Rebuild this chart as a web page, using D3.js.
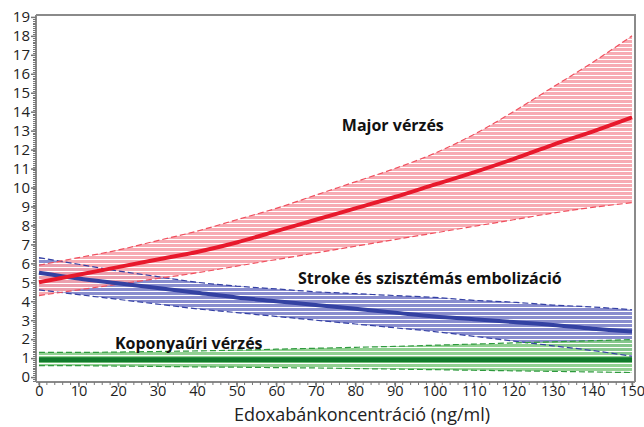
<!DOCTYPE html>
<html><head><meta charset="utf-8">
<script src="https://cdn.jsdelivr.net/npm/d3@7/dist/d3.min.js"></script>
<style>body{margin:0;background:#fff}svg{display:block}</style>
</head><body>
<svg id="c" width="644" height="427"></svg>
<script>
const conc = [0,10,20,30,40,50,60,70,80,90,100,110,120,130,140,150];
const majorMid   = [5.0,5.4,5.8,6.2,6.6,7.1,7.7,8.3,8.9,9.5,10.15,10.8,11.5,12.25,12.95,13.7];
const majorUpper = [5.9,6.3,6.7,7.2,7.7,8.3,8.9,9.6,10.3,11.0,11.8,12.8,14.0,15.3,16.6,18.0];
const majorLower = [4.3,4.6,4.9,5.2,5.5,5.85,6.2,6.55,6.9,7.25,7.6,7.95,8.3,8.65,8.95,9.2];
const strokeMid   = [5.5,5.2,4.95,4.7,4.45,4.2,4.0,3.8,3.6,3.4,3.2,3.05,2.9,2.75,2.55,2.4];
const strokeUpper = [6.3,5.95,5.6,5.3,5.0,4.8,4.65,4.5,4.4,4.3,4.2,4.05,3.95,3.8,3.7,3.55];
const strokeLower = [4.6,4.35,4.1,3.85,3.6,3.4,3.2,3.0,2.8,2.6,2.4,2.15,1.9,1.65,1.4,1.1];
const ichMid   = [0.92,0.92,0.92,0.92,0.92,0.92,0.92,0.92,0.92,0.92,0.92,0.92,0.92,0.92,0.92,0.92];
const ichUpper = [1.3,1.3,1.32,1.35,1.38,1.42,1.47,1.52,1.57,1.62,1.68,1.74,1.8,1.86,1.92,1.98];
const ichLower = [0.6,0.6,0.58,0.56,0.54,0.52,0.5,0.48,0.45,0.42,0.39,0.36,0.33,0.3,0.27,0.24];
const xTicks = [0,10,20,30,40,50,60,70,80,90,100,110,120,130,140,150];
const yTicks = [0,1,2,3,4,5,6,7,8,9,10,11,12,13,14,15,16,17,18,19];
const labels = ["Major vérzés","Stroke és szisztémás embolizáció","Koponyaűri vérzés"];
const xTitle = "Edoxabánkoncentráció (ng/ml)";

const svg = d3.select("#c");
const L=36,R=635,T=15,B=382;
const x = d3.scaleLinear().domain([-0.75,150.75]).range([L,R]);
const y = d3.scaleLinear().domain([-0.26,19.1]).range([B,T]);

const defs = svg.append("defs");
defs.append("clipPath").attr("id","clip").append("rect").attr("x",L).attr("y",T).attr("width",R-L).attr("height",B-T);
function pat(id,col,h,g){
  const p=defs.append("pattern").attr("id",id).attr("patternUnits","userSpaceOnUse").attr("width",8).attr("height",h+g);
  p.append("rect").attr("width",8).attr("height",h).attr("fill",col);
}
pat("pRed","#f6a2aa",3,1);
pat("pBlue","#7c80c8",3,1);
pat("pGreen","#86cc86",3,1);

const g = svg.append("g").attr("clip-path","url(#clip)");
const area=(lo,hi)=>d3.area().x((d,i)=>x(conc[i])).y0((d,i)=>y(lo[i])).y1((d,i)=>y(hi[i])).curve(d3.curveMonotoneX)(conc);
const line=(v)=>d3.line().x((d,i)=>x(conc[i])).y((d,i)=>y(v[i])).curve(d3.curveMonotoneX)(conc);

const series = [
  {lo:strokeLower,hi:strokeUpper,mid:strokeMid,fill:"url(#pBlue)",edge:"#3440a4",line:"#3341a2",w:4},
  {lo:majorLower,hi:majorUpper,mid:majorMid,fill:"url(#pRed)",edge:"#f0505e",line:"#e8192c",w:4},
  {lo:ichLower,hi:ichUpper,mid:ichMid,fill:"url(#pGreen)",edge:"#2f9a3e",line:"#117a2c",w:5}
];
series.forEach(s=>{
  g.append("path").attr("d",area(s.lo,s.hi)).attr("fill",s.fill).attr("opacity",0.9);
});
series.forEach(s=>{
  [s.lo,s.hi].forEach(v=>g.append("path").attr("d",line(v)).attr("fill","none").attr("stroke",s.edge).attr("stroke-width",1.2).attr("stroke-dasharray","6,3"));
});
series.forEach(s=>{
  g.append("path").attr("d",line(s.mid)).attr("fill","none").attr("stroke",s.line).attr("stroke-width",s.w);
});

// frame
svg.append("path").attr("d",`M${L},${T}H${R}V${B}`).attr("fill","none").attr("stroke","#8a8a8a").attr("stroke-width",2);
svg.append("line").attr("x1",L).attr("x2",R).attr("y1",B).attr("y2",B).attr("stroke","#8a8a8a").attr("stroke-width",2);
svg.append("line").attr("x1",L).attr("x2",L).attr("y1",T).attr("y2",B).attr("stroke","#8a8a8a").attr("stroke-width",2);

// minor ticks
const yMinor = d3.range(-2,192).map(i=>i/10).filter(v=>v>=-0.2&&v<=19.05);
svg.append("g").selectAll("line").data(yMinor).join("line")
  .attr("x1",L-3).attr("x2",L).attr("y1",d=>Math.round(y(d))+0.5).attr("y2",d=>Math.round(y(d))+0.5)
  .attr("stroke","#777").attr("stroke-width",1);
const xMinor = d3.range(0,151,2);
svg.append("g").selectAll("line").data(xMinor).join("line")
  .attr("x1",d=>x(d)).attr("x2",d=>x(d)).attr("y1",B).attr("y2",B+3).attr("stroke","#777").attr("stroke-width",1);

const yAxis = d3.axisLeft(y).tickValues(yTicks).tickSize(5).tickPadding(1);
const ya = svg.append("g").attr("transform",`translate(${L},0)`).call(yAxis);
const xAxis = d3.axisBottom(x).tickValues(xTicks).tickSize(5).tickPadding(-1);
const xa = svg.append("g").attr("transform",`translate(0,${B})`).call(xAxis);
[ya,xa].forEach(a=>{
  a.select(".domain").remove();
  a.selectAll(".tick line").attr("stroke","#777").attr("stroke-width",1.5);
  a.selectAll(".tick text").attr("font-family","'Open Sans'").attr("font-size",15).attr("fill","#222");
});
xa.selectAll(".tick text").attr("font-size",14.5);

svg.append("text").attr("x",362).attr("y",421).attr("text-anchor","middle")
  .attr("font-family","'Open Sans'").attr("font-size",18).attr("fill","#222").text(xTitle);

const lp = [[76.6,12.97],[65.5,4.9],[19.2,1.48]];
labels.forEach((t,i)=>{
  svg.append("text").attr("x",x(lp[i][0])).attr("y",y(lp[i][1]))
   .attr("font-family","'Open Sans'").attr("font-weight","bold").attr("font-size",16).attr("fill","#111").text(t);
});
</script>
</body></html>
